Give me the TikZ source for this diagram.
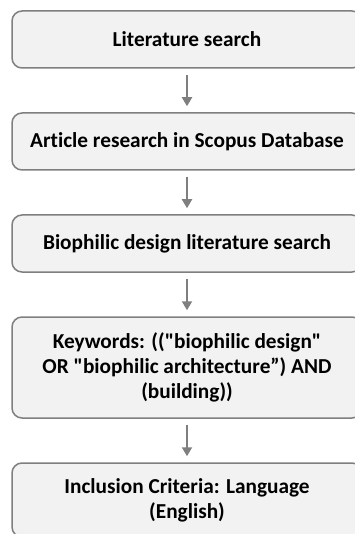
\documentclass[tikz,border=0pt]{standalone}
\usepackage{fontspec}
\setmainfont{Carlito}[Ligatures={TeXOff,NoCommon}]
\usetikzlibrary{arrows.meta}
\definecolor{boxfill}{HTML}{F2F2F2}
\definecolor{boxline}{HTML}{7F7F7F}
\definecolor{arrowc}{HTML}{7F7F7F}
\begin{document}
\begin{tikzpicture}[x=1pt,y=-1pt,
  stagebox/.style={draw=boxline, fill=boxfill, line width=1.5pt, rounded corners=10pt,
    minimum width=350pt, align=center, inner sep=0pt,
    font=\fontsize{21.3}{25}\selectfont\bfseries},
  flowarrow/.style={draw=arrowc, line width=1.9pt,
    -{Triangle[length=9pt,width=10pt]}, shorten <=6pt, shorten >=6pt}]
\useasboundingbox (0,0) rectangle (354,534);
\node[stagebox, minimum height=57pt] (b1) at (187,39.5) {Literature search};
\node[stagebox, minimum height=57pt] (b2) at (187,141.5) {Article research in Scopus Database};
\node[stagebox, minimum height=57pt] (b3) at (187,243.5) {Biophilic design literature search};
\node[stagebox, minimum height=101pt] (b4) at (187,367.5) {Keywords: (("biophilic design"\\OR "biophilic architecture”) AND\\(building))};
\node[stagebox, minimum height=74pt] (b5) at (187,500) {Inclusion Criteria: Language\\(English)};
\draw[flowarrow] (b1) -- (b2);
\draw[flowarrow] (b2) -- (b3);
\draw[flowarrow] (b3) -- (b4);
\draw[flowarrow] (b4) -- (b5);
\end{tikzpicture}
\end{document}
